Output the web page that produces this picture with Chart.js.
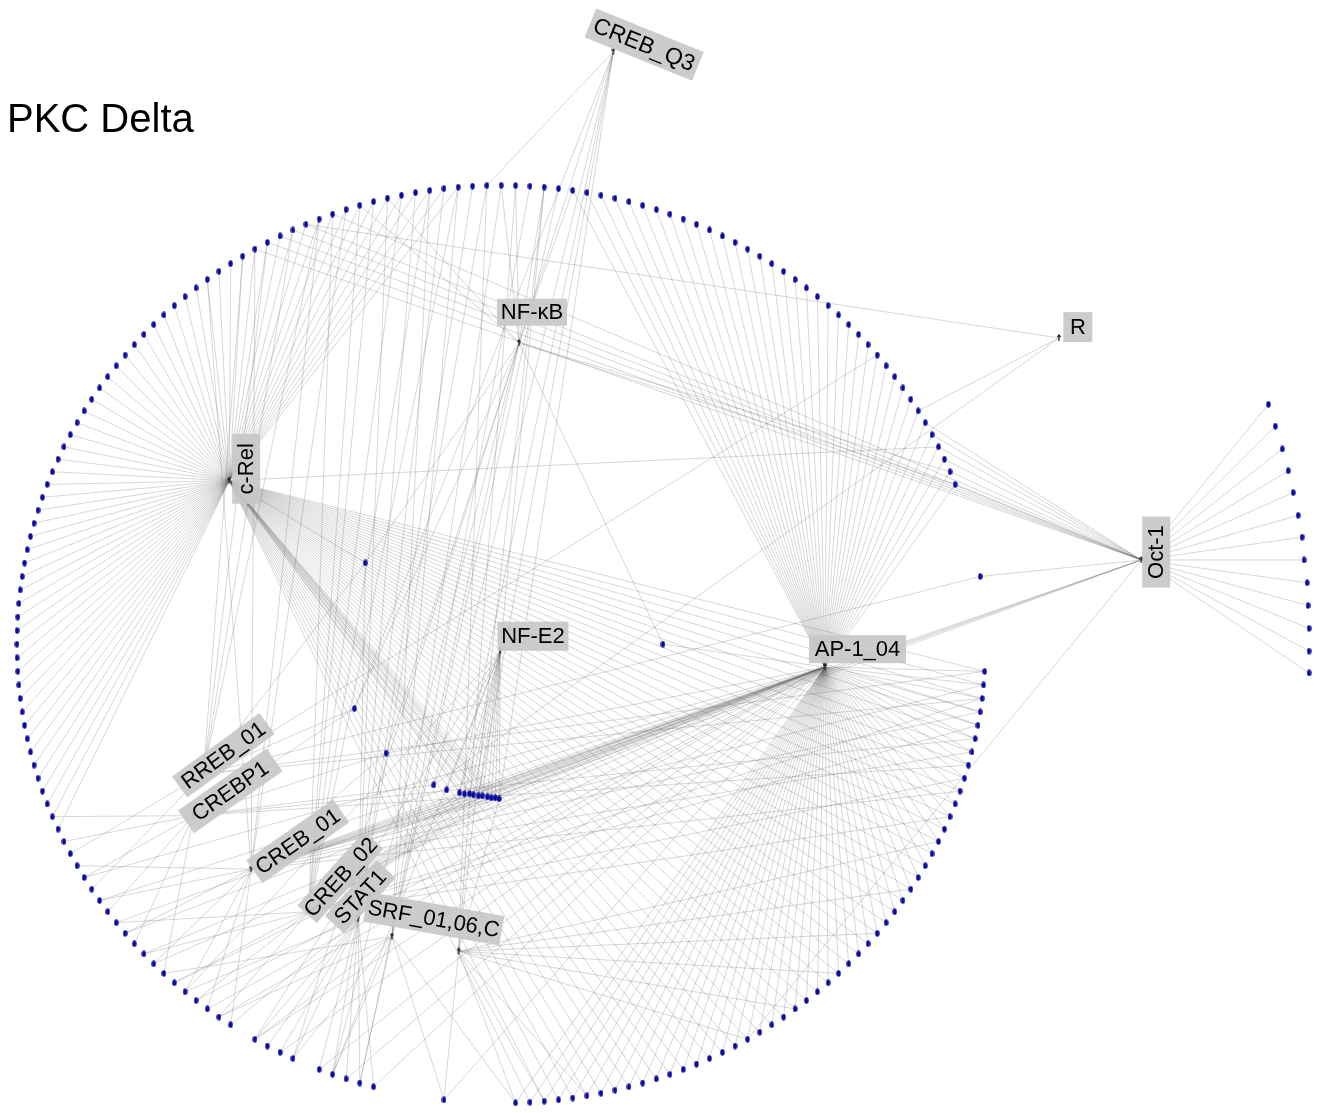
<!DOCTYPE html>
<html>
<head>
<meta charset="utf-8">
<title>PKC Delta</title>
<script src="https://cdn.jsdelivr.net/npm/chart.js@4.4.1/dist/chart.umd.min.js"></script>
<style>
  html, body { margin: 0; padding: 0; background: #fff; }
  #wrap { position: relative; width: 1324px; height: 1113px; }
</style>
</head>
<body>
<div id="wrap"><canvas id="net" width="1324" height="1113"></canvas></div>
<script>
// target genes sitting on the big circle (slot number on a 212 slot ring)
const ringSlots = [
  0,1,2,3,4,5,6,7,8,9,10,11,12,13,14,15,16,17,18,19,20,21,22,23,24,25,26,27,28,29,30,31,32,33,34,35,36,37,38,39,40,41,
  48,
  55,56,57,58,59,60,61,62,63,64,65,66,67,68,69,70,71,72,73,74,75,76,77,78,79,80,81,82,83,84,85,86,87,88,89,90,
  91,92,93,94,95,96,97,98,99,100,101,102,103,104,105,
  110,
  115,116,117,118,119,
  121,122,123,124,
  126,127,128,129,130,131,132,133,134,135,136,137,138,139,140,141,142,143,144,145,146,147,148,149,150,
  151,152,153,154,155,156,157,158,159,160,161,162,163,164,165,166,167,168,169,170,171,172,173,174,175,
  176,177,178,179,180,181,182,183,184,185,186,187,188,189,190,191,192,193,194,195,196,197,198,199,200,
  201,202,203,204,205,206,207,208,209,210,211
];

// genes pulled inside the circle
const innerX = [363, 352, 384, 432, 445, 458, 463, 468, 472, 477, 481, 486, 490, 494, 498, 663];
const innerY = [563, 710, 755, 787, 792, 795, 796, 796, 797, 798, 798, 799, 800, 800, 801, 645];

// genes only bound by Oct-1 (right side)
const outerX = [1273, 1280, 1287, 1293, 1298, 1303, 1307, 1309, 1312, 1313, 1314, 1314, 1314];
const outerY = [403, 425, 448, 470, 492, 515, 537, 560, 583, 606, 629, 652, 674];

// transcription factors
const tfNames = ['CREB_Q3', 'NF-κB', 'R', 'c-Rel', 'Oct-1', 'NF-E2', 'AP-1_04',
                 'RREB_01', 'CREBP1', 'CREB_01', 'CREB_02', 'STAT1', 'SRF_01', 'SRF_06,C'];
const tfX = [613, 518, 1062, 226, 1145, 499, 826, 200, 190, 248, 306, 356, 390, 457];
const tfY = [47, 341, 336, 480, 560, 652, 668, 776, 818, 872, 915, 922, 940, 955];

// edges (r = ring gene, i = inner gene, o = outer gene)
const linksCREBQ3 = ['r211','i1','i2','i3','i5','i9','i14'];
const linksNFkB = ['r0','r1','r3','r5','r204','r202','i0','i1','i15','r116','r118','r121','r40','r41'];
const linksR = ['r198','r35','i3'];
const linksCRel = [
  'r145','r146','r147','r148','r149','r150','r151','r152','r153','r154','r155','r156','r157','r158','r159',
  'r160','r161','r162','r163','r164','r165','r166','r167','r168','r169','r170','r171','r172','r173','r174',
  'r175','r176','r177','r178','r179','r180','r181','r182','r183','r184','r185','r186','r187','r188','r189',
  'r190','r191','r192','r193','r194','r195','r196','r197','r198','r199','r200','r201','r202','r203','r204',
  'r205','r206','r207','r208','r209','r38',
  'r55','r56','r57','r58','r59','r60','r61','r62','r63','r64','r65','r66','r67','r68','r69','r70','r71',
  'r72','r73','r74','r75','r76','r77','r78','r79','r80','r81','r82','r83','r84','r85','r86','r87','r88',
  'r89','r90','r91','r92','r93','r94','r95','r96','r97','r98','r99','r100','r101','r102','r103','r104',
  'i0','i5','i6','i7','i8','i9','i10','i11','i12','i13','i14'
];
const linksOct1 = ['o0','o1','o2','o3','o4','o5','o6','o7','o8','o9','o10','o11','o12',
                   'r36','r37','r38','r39','r40','r41','r48','i6','i8','i10','i12',
                   'r194','r195','r196','r197','r198','r200','r88'];
const linksNFE2 = ['i3','i4','i5','i6','i7','i8','i9','i10','i11','i12','i13','i14','r3','r118','r124','r130'];
const linksAP1 = [
  'r5','r6','r7','r8','r9','r10','r11','r12','r13','r14','r15','r16','r17','r18','r19','r20','r21','r22',
  'r23','r24','r25','r26','r27','r28','r29','r30','r31','r32','r33','r34','r35','r36','r37','r38','r39',
  'r40','r41',
  'r55','r56','r57','r58','r59','r60','r61','r62','r63','r64','r65','r66','r67','r68','r69','r70','r71',
  'r72','r73','r74','r75','r76','r77','r78','r79','r80','r81','r82','r83','r84','r85','r86','r87','r88',
  'r89','r90','r91','r92','r93','r94','r95','r96','r97','r98','r99','r100','r101','r102','r103','r104','r105',
  'r110','r115','r117','r119','r122','r124','r127','r128','r129','r131','r133','r134','r136','r137','r139','r141',
  'i2','i5','i6','i7','i8','i9','i10','i11','i12','i13','i14','i15'
];
const linksRREB = ['r140','r143','r193','r195','r197','r199','i0','i1','r48','r30','r55','r57'];
const linksCREBP1 = ['r132','r135','r138','r141','r144','r146','i1','i2','i3','r60','r62'];
const linksCREB01 = ['r126','r128','r130','r133','r136','r139','r142','i2',
                     'i5','i6','i7','i8','i9','i10','i11','i12','i13','i14',
                     'r190','r194','r199','r201','r56','r58','r61','r64'];
const linksCREB02 = ['r127','r129','r131','r134','r137',
                     'i5','i6','i7','i8','i9','i10','i11','i12','i13','i14',
                     'r200','r202','r203','r205','r207','r209','r57','r59','r63','r66'];
const linksSTAT1 = ['r115','r116','r117','r118','r119','r121','r122','r123','r124','r126','r130',
                    'r204','r206','r208','r210','r211','i0'];
const linksSRF01 = ['r0','r2','r4','r207','r209','r105','r110','r116','r118','r121','r124','r127','r132'];
const linksSRF06 = ['r1','r3','r211','r68','r72','r76','r80','r84','r88','r100','r103','r105','r110','i14'];

const tfLinks = [linksCREBQ3, linksNFkB, linksR, linksCRel, linksOct1, linksNFE2, linksAP1,
                 linksRREB, linksCREBP1, linksCREB01, linksCREB02, linksSTAT1, linksSRF01, linksSRF06];

// ---- layout of the circle (chart units = pixels here)
const RING_SLOTS = 212, RING_CX = 500, RING_CY = 645, RING_RX = 488, RING_RY = 463;

function ringPos(slot) {
  const a = slot / RING_SLOTS * 2 * Math.PI;
  return { x: RING_CX + RING_RX * Math.sin(a), y: RING_CY - RING_RY * Math.cos(a) };
}

function nodePos(key) {
  const n = Number(key.slice(1));
  if (key[0] === 'r') return ringPos(n);
  if (key[0] === 'i') return { x: innerX[n], y: innerY[n] };
  return { x: outerX[n], y: outerY[n] };
}

// little glyphs
function ellipseDot(color, w, h) {
  const c = document.createElement('canvas');
  c.width = w; c.height = h;
  const g = c.getContext('2d');
  g.fillStyle = color;
  g.beginPath();
  g.ellipse(w / 2, h / 2, w / 2 - 0.3, h / 2 - 0.3, 0, 0, Math.PI * 2);
  g.fill();
  return c;
}
function tick() {
  const c = document.createElement('canvas');
  c.width = 4; c.height = 8;
  const g = c.getContext('2d');
  g.strokeStyle = '#222';
  g.lineWidth = 1.3;
  g.beginPath(); g.moveTo(2, 1); g.lineTo(2, 7); g.stroke();
  g.beginPath(); g.moveTo(0.5, 3); g.lineTo(2, 1); g.lineTo(3.5, 3); g.stroke();
  return c;
}

const geneDot = ellipseDot('#0a0aa0', 5, 7);
const tfTick = tick();

// ---- datasets
const datasets = [];

const genePts = [];
ringSlots.forEach(s => genePts.push(ringPos(s)));
innerX.forEach((x, i) => genePts.push({ x: x, y: innerY[i] }));
outerX.forEach((x, i) => genePts.push({ x: x, y: outerY[i] }));

datasets.push({
  label: 'genes',
  data: genePts,
  pointStyle: geneDot,
  pointRadius: 3,
  showLine: false,
  order: 0
});

datasets.push({
  label: 'factors',
  data: tfX.map((x, i) => ({ x: x, y: tfY[i] })),
  pointStyle: tfTick,
  pointRadius: 3,
  showLine: false,
  order: 0
});

tfLinks.forEach((links, t) => {
  const pts = [];
  links.forEach(k => {
    pts.push({ x: tfX[t], y: tfY[t] });
    pts.push(nodePos(k));
    pts.push({ x: NaN, y: NaN });
  });
  datasets.push({
    label: tfNames[t],
    data: pts,
    showLine: true,
    spanGaps: false,
    borderColor: 'rgba(95,95,95,0.25)',
    borderWidth: 1,
    pointRadius: 0,
    tension: 0,
    order: 1
  });
});

// label boxes: text, centre, rotation, size
const labelBoxes = [
  { text: 'CREB_Q3', cx: 644, cy: 40, rot: 22, w: 116, h: 31, size: 23 },
  { text: 'NF-κB', cx: 531, cy: 310, rot: 0, w: 70, h: 27 },
  { text: 'R', cx: 1081, cy: 325, rot: 0, w: 29, h: 30 },
  { text: 'c-Rel', cx: 243, cy: 468, rot: -90, w: 70, h: 28 },
  { text: 'Oct-1', cx: 1160, cy: 552, rot: -90, w: 71, h: 28 },
  { text: 'NF-E2', cx: 532, cy: 637, rot: 0, w: 71, h: 29 },
  { text: 'AP-1_04', cx: 859, cy: 650, rot: 0, w: 97, h: 28 },
  { text: 'RREB_01', cx: 220, cy: 757, rot: -36, w: 108, h: 26 },
  { text: 'CREBP1', cx: 227, cy: 793, rot: -35, w: 108, h: 28 },
  { text: 'CREB_01', cx: 295, cy: 844, rot: -35, w: 106, h: 28 },
  { text: 'CREB_02', cx: 338, cy: 880, rot: -48, w: 100, h: 26 },
  { text: 'STAT1', cx: 358, cy: 900, rot: -47, w: 76, h: 26 },
  { text: 'SRF_01,06,C', cx: 432, cy: 922, rot: 10, w: 138, h: 30 }
];

const labelPlugin = {
  id: 'tfLabels',
  afterDatasetsDraw(chart) {
    const ctx = chart.ctx;
    const sx = chart.scales.x, sy = chart.scales.y;
    ctx.save();
    ctx.font = '40px "Liberation Sans", Arial, sans-serif';
    ctx.fillStyle = '#000';
    ctx.textBaseline = 'alphabetic';
    ctx.fillText('PKC Delta', 7, 132);
    labelBoxes.forEach(b => {
      ctx.save();
      ctx.translate(sx.getPixelForValue(b.cx), sy.getPixelForValue(b.cy));
      ctx.rotate(b.rot * Math.PI / 180);
      ctx.fillStyle = 'rgba(200,200,200,0.92)';
      ctx.fillRect(-b.w / 2, -b.h / 2, b.w, b.h);
      ctx.fillStyle = '#000';
      ctx.font = (b.size || 22) + 'px "Liberation Sans", Arial, sans-serif';
      ctx.textAlign = 'center';
      ctx.textBaseline = 'middle';
      ctx.fillText(b.text, 0, 1);
      ctx.restore();
    });
    ctx.restore();
  }
};

new Chart(document.getElementById('net'), {
  type: 'scatter',
  data: { datasets: datasets },
  options: {
    responsive: false,
    animation: false,
    events: [],
    layout: { padding: 0 },
    plugins: { legend: { display: false }, tooltip: { enabled: false } },
    scales: {
      x: { type: 'linear', min: 0, max: 1324, display: false },
      y: { type: 'linear', min: 0, max: 1113, reverse: true, display: false }
    }
  },
  plugins: [labelPlugin]
});
</script>
</body>
</html>
